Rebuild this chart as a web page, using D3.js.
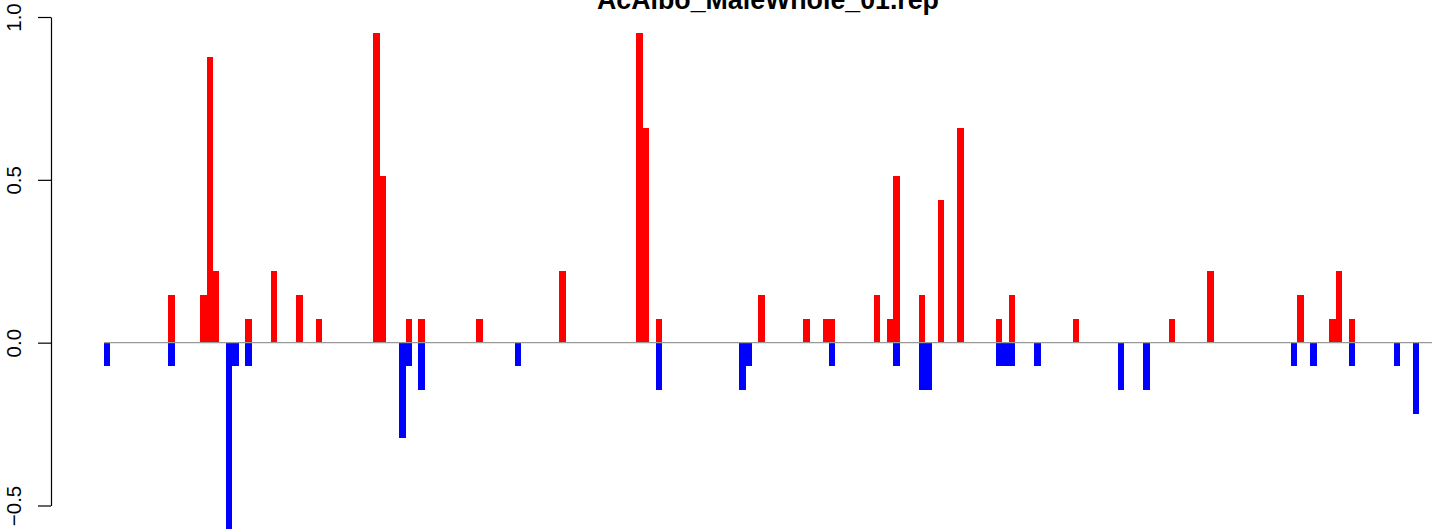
<!DOCTYPE html>
<html>
<head>
<meta charset="utf-8">
<script src="https://cdn.jsdelivr.net/npm/d3@7"></script>
<style>
  html, body { margin: 0; padding: 0; background: #fff; }
  svg { display: block; }
  text { font-family: "Liberation Sans", Arial, Helvetica, sans-serif; }
</style>
</head>
<body>
<svg id="chart" width="1444" height="529"></svg>
<script>
// ---- data ----
const chartTitle = "AcAlbo_MaleWhole_01.rep";
const nBars = 207;
// positive (red) bars: bar index and value
const redIdx = [10, 15, 16, 17, 22, 26, 30, 33, 42, 43, 47, 49, 58, 71, 83, 84, 86, 102, 109, 112, 113, 120, 122, 123, 127, 130, 133, 139, 141, 151, 166, 172, 186, 191, 192, 194];
const redVal = [0.146, 0.146, 0.877, 0.219, 0.073, 0.219, 0.146, 0.073, 0.950, 0.512, 0.073, 0.073, 0.073, 0.219, 0.950, 0.658, 0.073, 0.146, 0.073, 0.073, 0.073, 0.146, 0.073, 0.512, 0.146, 0.439, 0.658, 0.073, 0.146, 0.073, 0.073, 0.219, 0.146, 0.073, 0.219, 0.073];
// negative (blue) bars: bar index and value
const blueIdx = [0, 10, 19, 20, 22, 46, 47, 49, 64, 86, 99, 100, 113, 123, 127, 128, 139, 140, 141, 145, 158, 162, 185, 188, 194, 201, 204];
const blueVal = [-0.073, -0.073, -0.585, -0.073, -0.073, -0.292, -0.073, -0.146, -0.073, -0.146, -0.146, -0.073, -0.073, -0.073, -0.146, -0.146, -0.073, -0.073, -0.073, -0.073, -0.146, -0.146, -0.073, -0.073, -0.073, -0.073, -0.219];
const tickValues = [-0.5, 0, 0.5, 1.0];
const tickLabels = ["\u22120.5", "0.0", "0.5", "1.0"];

// ---- layout ----
const svg = d3.select("#chart");
const x = d3.scaleLinear().domain([0, nBars]).range([104, 1432]);
const y = d3.scaleLinear().domain([-0.5, 1.0]).range([505.5, 17]);

const redData = redIdx.map((d, i) => ({ i: d, v: redVal[i] }));
const blueData = blueIdx.map((d, i) => ({ i: d, v: blueVal[i] }));

function barX(d) { return Math.round(x(d.i)); }
function barW(d) { return Math.round(x(d.i + 1)) - Math.round(x(d.i)); }

svg.append("g").selectAll("rect").data(redData).join("rect")
  .attr("x", barX).attr("width", barW)
  .attr("y", d => y(d.v)).attr("height", d => y(0) - y(d.v))
  .attr("fill", "#ff0000").attr("shape-rendering", "crispEdges");

svg.append("g").selectAll("rect").data(blueData).join("rect")
  .attr("x", barX).attr("width", barW)
  .attr("y", y(0)).attr("height", d => y(d.v) - y(0))
  .attr("fill", "#0000ff").attr("shape-rendering", "crispEdges");

// baseline
svg.append("line")
  .attr("x1", x(0)).attr("x2", x(nBars))
  .attr("y1", y(0)).attr("y2", y(0))
  .attr("stroke", "#999999").attr("stroke-width", 1.4);

// y axis
const axis = d3.axisLeft(y)
  .tickValues(tickValues)
  .tickFormat((d, i) => tickLabels[i])
  .tickSize(13).tickSizeOuter(0);
const gA = svg.append("g").attr("transform", "translate(51,0)").call(axis);
gA.select(".domain").attr("stroke", "#000").attr("stroke-width", 1.2);
gA.selectAll(".tick line").attr("stroke", "#000").attr("stroke-width", 1.2);
gA.selectAll(".tick text")
  .attr("x", 0).attr("y", -30.5).attr("dy", null)
  .attr("transform", "rotate(-90)")
  .attr("text-anchor", "middle")
  .attr("fill", "#000")
  .style("font-size", "20.5px")
  .style("font-family", '"Liberation Sans", Arial, sans-serif');

// title
const t = svg.append("text")
  .attr("x", 768).attr("y", 8.5)
  .attr("text-anchor", "middle")
  .attr("font-weight", "bold")
  .style("font-size", "26px")
  .text(chartTitle);
const w = t.node().getComputedTextLength();
t.style("font-size", (26 * 342 / w).toFixed(2) + "px");
</script>
</body>
</html>
